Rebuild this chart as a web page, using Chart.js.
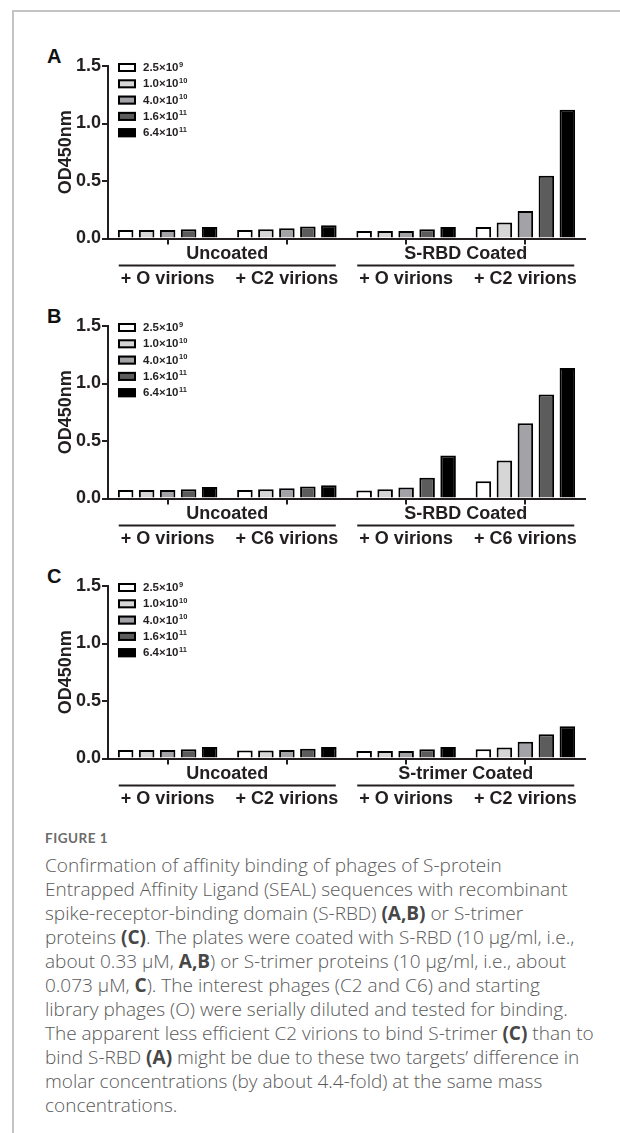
<!DOCTYPE html>
<html><head><meta charset="utf-8">
<script src="https://cdn.jsdelivr.net/npm/chart.js@4"></script>
<style>
html,body{margin:0;padding:0;background:#fff;}
body{width:620px;height:1133px;position:relative;overflow:hidden;}
#frame{position:absolute;left:12px;top:10px;width:620px;height:1140px;border-top:2px solid #c4c4c4;border-left:2px solid #c4c4c4;}
.panel{position:absolute;left:20px;}
.letter{position:absolute;left:47px;font:bold 20px "Liberation Sans",Arial,sans-serif;line-height:1;color:#111;}
#figlabel{position:absolute;left:45px;top:830px;font:bold 13.5px Lato,"Open Sans",sans-serif;color:#6b6b6b;letter-spacing:0.5px;}
#caption{position:absolute;left:45px;top:853px;font-family:"Open Sans",Lato,sans-serif;font-weight:300;font-size:17px;line-height:24px;color:#585858;white-space:nowrap;}
#caption span.l{display:block;width:max-content;}
#caption b{font-weight:700;color:#474747;}
</style></head><body>
<div id="frame"></div>
<div class="letter" style="top:46px">A</div>
<div class="letter" style="top:306px">B</div>
<div class="letter" style="top:566px">C</div>
<canvas id="cA" class="panel" width="600" height="250" style="top:40px"></canvas>
<canvas id="cB" class="panel" width="600" height="250" style="top:300px"></canvas>
<canvas id="cC" class="panel" width="600" height="250" style="top:560px"></canvas>
<div id="figlabel">FIGURE 1</div>
<div id="caption"><span class="l">Confirmation of affinity binding of phages of S-protein</span><span class="l">Entrapped Affinity Ligand (SEAL) sequences with recombinant</span><span class="l">spike-receptor-binding domain (S-RBD) <b>(A,B)</b> or S-trimer</span><span class="l">proteins <b>(C)</b>. The plates were coated with S-RBD (10 μg/ml, i.e.,</span><span class="l">about 0.33 μM, <b>A,B</b>) or S-trimer proteins (10 μg/ml, i.e., about</span><span class="l">0.073 μM, <b>C</b>). The interest phages (C2 and C6) and starting</span><span class="l">library phages (O) were serially diluted and tested for binding.</span><span class="l" id="longLine">The apparent less efficient C2 virions to bind S-trimer <b>(C)</b> than to</span><span class="l">bind S-RBD <b>(A)</b> might be due to these two targets’ difference in</span><span class="l">molar concentrations (by about 4.4-fold) at the same mass</span><span class="l">concentrations.</span></div>
<script>
const categoriesA = ['+ O virions', '+ C2 virions', '+ O virions', '+ C2 virions'];
const categoriesB = ['+ O virions', '+ C6 virions', '+ O virions', '+ C6 virions'];
const categoriesC = ['+ O virions', '+ C2 virions', '+ O virions', '+ C2 virions'];
const groupsA = ['Uncoated', 'S-RBD Coated'];
const groupsB = ['Uncoated', 'S-RBD Coated'];
const groupsC = ['Uncoated', 'S-trimer Coated'];
const seriesLabels = ['2.5×10⁹', '1.0×10¹⁰', '4.0×10¹⁰', '1.6×10¹¹', '6.4×10¹¹'];
const legendMantissa = ['2.5×10', '1.0×10', '4.0×10', '1.6×10', '6.4×10'];
const legendExponent = ['9', '10', '10', '11', '11'];
const yTickValues = [0, 0.5, 1.0, 1.5];
const yTitle = 'OD450nm';

// Panel A: one array per phage dose, values for the 4 x-categories
const A_d1 = [0.075, 0.075, 0.065, 0.10];
const A_d2 = [0.075, 0.08, 0.065, 0.14];
const A_d3 = [0.075, 0.09, 0.065, 0.24];
const A_d4 = [0.08, 0.105, 0.08, 0.545];
const A_d5 = [0.10, 0.115, 0.10, 1.12];
// Panel B
const B_d1 = [0.075, 0.075, 0.07, 0.15];
const B_d2 = [0.075, 0.08, 0.08, 0.33];
const B_d3 = [0.075, 0.09, 0.095, 0.655];
const B_d4 = [0.08, 0.105, 0.18, 0.905];
const B_d5 = [0.10, 0.115, 0.375, 1.135];
// Panel C
const C_d1 = [0.075, 0.07, 0.065, 0.08];
const C_d2 = [0.075, 0.07, 0.065, 0.095];
const C_d3 = [0.075, 0.075, 0.065, 0.145];
const C_d4 = [0.08, 0.085, 0.08, 0.21];
const C_d5 = [0.10, 0.10, 0.10, 0.28];

const fills = ['#ffffff', '#d6d6d6', '#a2a2a7', '#5c5c5c', '#000000'];
const INK = '#231f20';
const FONT = '"Liberation Sans", Arial, sans-serif';

// fit caption width to reference (longest line ≈ 549px)
(function fitCaption() {
  const cap = document.getElementById('caption');
  const ln = document.getElementById('longLine');
  const w = ln.getBoundingClientRect().width;
  if (w > 0) cap.style.fontSize = (17 * 549 / w).toFixed(2) + 'px';
})();

const groupPlugin = {
  id: 'groupsAndLegend',
  afterDraw(chart, args, opts) {
    const ctx = chart.ctx, x = chart.scales.x, area = chart.chartArea;
    ctx.save();
    ctx.font = 'bold 18px ' + FONT;
    ctx.fillStyle = INK; ctx.strokeStyle = INK;
    ctx.textAlign = 'center'; ctx.textBaseline = 'middle';
    opts.headers.forEach((h, i) => {
      const a = x.getPixelForValue(2 * i), b = x.getPixelForValue(2 * i + 1);
      const mid = (a + b) / 2, half = (b - a) * 0.91;
      ctx.fillText(h, mid, area.bottom + 15.5);
      ctx.lineWidth = 2;
      ctx.beginPath();
      ctx.moveTo(mid - half, area.bottom + 27);
      ctx.lineTo(mid + half, area.bottom + 27);
      ctx.stroke();
    });
    chart.data.datasets.forEach((ds, i) => {
      const cy = area.top + 1.5 + i * 16.3;
      const bx = area.left + 10;
      ctx.fillStyle = ds.backgroundColor;
      ctx.fillRect(bx, cy - 4.5, 18, 9);
      ctx.lineWidth = 2; ctx.strokeStyle = '#000';
      ctx.strokeRect(bx + 1, cy - 3.5, 16, 7);
      ctx.fillStyle = INK;
      ctx.textAlign = 'left'; ctx.textBaseline = 'middle';
      ctx.font = 'bold 11.5px ' + FONT;
      const t = legendMantissa[i];
      ctx.fillText(t, bx + 25, cy + 0.5);
      const w = ctx.measureText(t).width;
      ctx.font = 'bold 7.5px ' + FONT;
      ctx.fillText(legendExponent[i], bx + 25 + w + 0.5, cy - 3);
    });
    ctx.restore();
  }
};

function makePanel(id, cats, groups, series) {
  new Chart(document.getElementById(id), {
    type: 'bar',
    data: {
      labels: cats,
      datasets: series.map((d, i) => ({
        label: seriesLabels[i], data: d,
        backgroundColor: fills[i], borderColor: '#000', borderWidth: 2,
        borderSkipped: 'start', barPercentage: 0.74, categoryPercentage: 0.88
      }))
    },
    options: {
      responsive: false, animation: false, devicePixelRatio: 1,
      layout: { padding: { left: 35, right: 35, top: 26, bottom: 0 } },
      plugins: { legend: { display: false }, tooltip: { enabled: false },
        groupsAndLegend: { headers: groups } },
      scales: {
        x: {
          offset: true,
          grid: { offset: false, drawOnChartArea: false, drawTicks: true, tickLength: 6, color: INK, lineWidth: 2 },
          border: { display: true, color: INK, width: 2 },
          ticks: { color: INK, font: { family: FONT, size: 18, weight: 'bold' }, padding: 24, maxRotation: 0, autoSkip: false },
          afterFit(s) { s.height = 51.5; }
        },
        y: {
          min: 0, max: 1.5,
          afterBuildTicks(s) { s.ticks = yTickValues.map(v => ({ value: v })); },
          grid: { drawOnChartArea: false, tickLength: 6, color: INK, lineWidth: 2 },
          border: { display: true, color: INK, width: 2 },
          ticks: { color: INK, font: { family: FONT, size: 18, weight: 'bold' }, padding: 1, callback: v => Number(v).toFixed(1) },
          title: { display: true, text: yTitle, color: INK, font: { family: FONT, size: 18, weight: 'bold' }, padding: 0 },
          afterFit(s) { s.width = 53; }
        }
      }
    },
    plugins: [groupPlugin]
  });
}

makePanel('cA', categoriesA, groupsA, [A_d1, A_d2, A_d3, A_d4, A_d5]);
makePanel('cB', categoriesB, groupsB, [B_d1, B_d2, B_d3, B_d4, B_d5]);
makePanel('cC', categoriesC, groupsC, [C_d1, C_d2, C_d3, C_d4, C_d5]);
</script>
</body></html>
